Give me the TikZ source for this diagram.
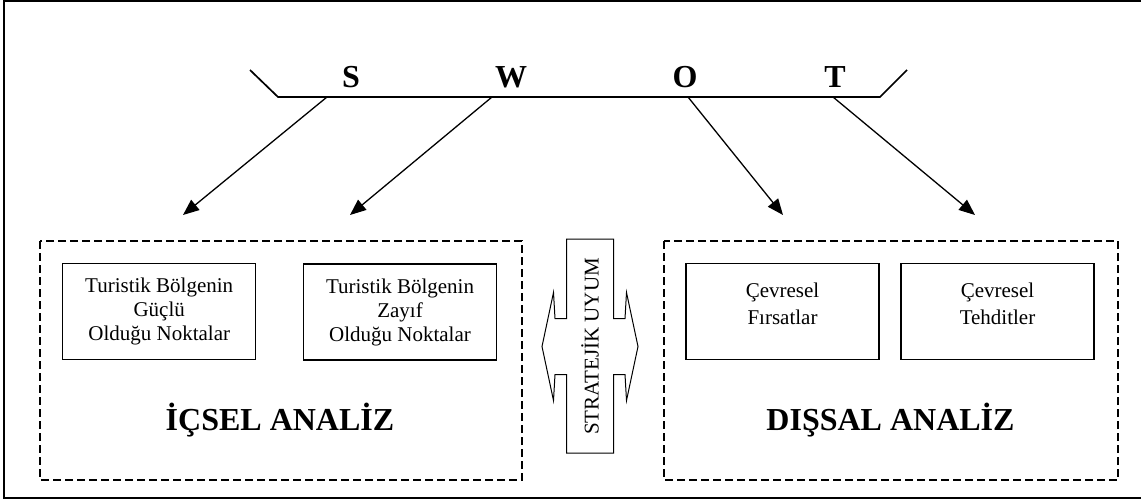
\documentclass[tikz,border=0pt]{standalone}
\usepackage{fontspec}
\setmainfont{Liberation Serif}
\usetikzlibrary{arrows.meta}

\begin{document}
\begin{tikzpicture}[x=1pt,y=-1pt,
    pfeil/.style={line width=1.3pt,-{Triangle[length=16pt,width=13pt]}},
    kasten/.style={draw,line width=1.5pt,minimum width=193pt,minimum height=96pt,inner sep=0pt,align=center,font=\fontsize{21}{24}\selectfont},
    kastentext/.style={align=center,inner sep=0pt,font=\fontsize{21}{27}\selectfont},
    bereich/.style={line width=1.3pt,dash pattern=on 8pt off 4pt},
    titel/.style={anchor=base,inner sep=0pt,font=\fontsize{32}{38}\selectfont\bfseries},
    buchstabe/.style={anchor=base,inner sep=0pt,font=\fontsize{32}{38}\selectfont\bfseries}]
    \useasboundingbox (0,0) rectangle (1141,500);

    % Rahmen
    \draw[line width=2pt] (4,1) rectangle (1160,498);

    % Leiste
    \draw[line width=1.7pt] (250,70) -- (278,97) -- (880,97) -- (907,70);
    \node[buchstabe] (S) at (351,88) {S};
    \node[buchstabe] (W) at (511,88) {W};
    \node[buchstabe] (O) at (685,88) {O};
    \node[buchstabe] (T) at (835,88) {T};

    % Pfeile
    \foreach \n/\a/\b in {S/327/183, W/492/350, O/688/783, T/833/975} {
        \coordinate (\n0) at (\a,97);
        \coordinate (\n1) at (\b,215);
        \draw[pfeil] (\n0) -- (\n1);
    }

    % links
    \draw[bereich] (40,241) rectangle (522,480);
    \node[kasten] (guclu) at (159.2,311.7) {Turistik Bölgenin\\Güçlü\\Olduğu Noktalar};
    \node[kasten] (zayif) at (400,312) {Turistik Bölgenin\\Zayıf\\Olduğu Noktalar};
    \node[titel] (icsel) at (280,430) {İÇSEL ANALİZ};

    % rechts
    \draw[bereich] (664,241) rectangle (1118,480);
    \node[kasten] (firsat) at (782.5,311.7) {};
    \node[kasten] (tehdit) at (997.5,311.7) {};
    \node[kastentext] (firsattext) at ([yshift=8pt]firsat.center) {Çevresel\\Fırsatlar};
    \node[kastentext] (tehdittext) at ([yshift=8pt]tehdit.center) {Çevresel\\Tehditler};
    \node[titel] (dissal) at (890.5,430) {DIŞSAL ANALİZ};

    % Doppelpfeil
    \begin{scope}[shift={(590,346.5)}]
        \draw[line width=1pt] (-23.5,-107.5) -- (23.5,-107.5) -- (23.5,-28) -- (35,-28)
                              -- (36.5,-54) -- (48,0) -- (36.5,54) -- (35,28) -- (23.5,28)
                              -- (23.5,106.5) -- (-23.5,106.5) -- (-23.5,28) -- (-35,28)
                              -- (-36.5,54) -- (-48,0) -- (-36.5,-54) -- (-35,-28)
                              -- (-23.5,-28) -- cycle;
    \end{scope}
    \node[rotate=90,inner sep=0pt,font=\fontsize{21}{24}\selectfont] (uyum) at (590,346.5) {STRATEJİK UYUM};
\end{tikzpicture}
\end{document}
